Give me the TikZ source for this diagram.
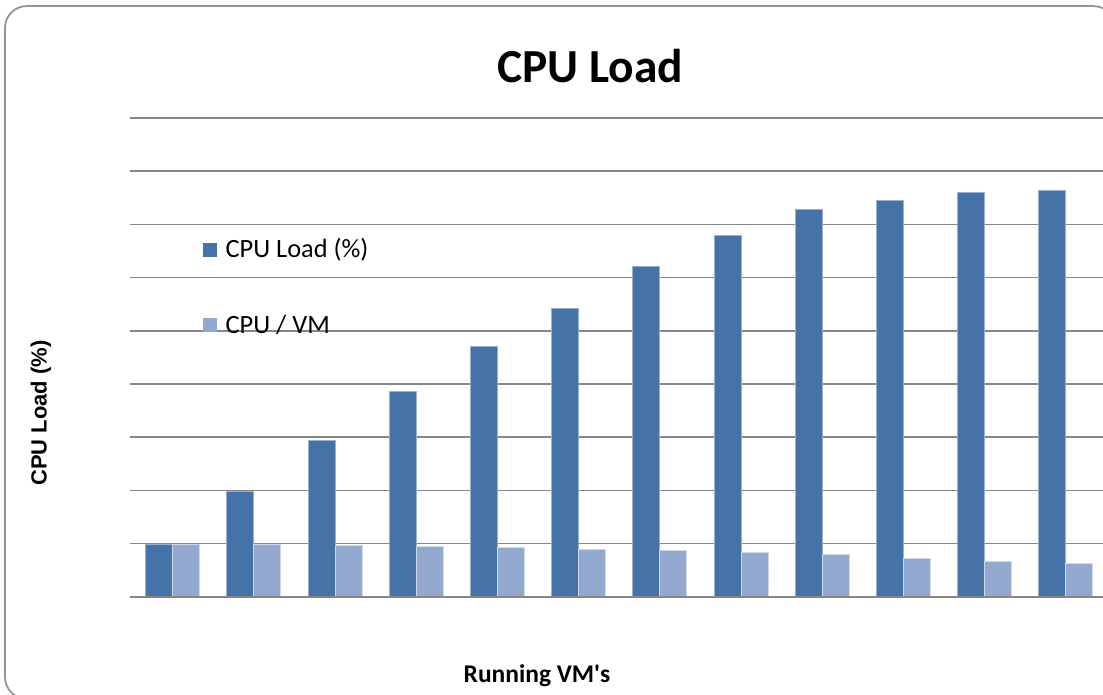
\documentclass[tikz,border=0pt]{standalone}
\usepackage{fontspec}
\setmainfont{Carlito}
\newfontfamily\arialfont{Liberation Sans}
\usetikzlibrary{positioning}
\definecolor{loadblue}{HTML}{4572A7}
\definecolor{vmblue}{HTML}{93A9CF}
\definecolor{gridgray}{HTML}{868686}
\begin{document}
\begin{tikzpicture}[x=0.02cm,y=-0.02cm,
  grid line/.style={gridgray,line width=0.9pt},
  loadbar/.style={fill=loadblue,draw=loadblue!55!white,line width=0.3pt},
  vmbar/.style={fill=vmblue,draw=vmblue!45!white,line width=0.3pt},
  keybox/.style={inner sep=0pt,minimum size=0.28cm},
  keytext/.style={font=\fontsize{15}{18}\selectfont,inner sep=0pt}]
\useasboundingbox (0,0) rectangle (1103,695);
\clip (0,0) rectangle (1103,695);
% frame
\draw[gridgray!90,line width=1pt,rounded corners=0.44cm] (5,6) rectangle (1115,699);
% grid
\foreach \k in {0,...,8}
  \draw[grid line] (130,{118+53.2*\k}) -- (1103,{118+53.2*\k});
% bars
\foreach \load/\vm [count=\i from 0] in {1/1, 1.98/1, 2.94/0.98, 3.86/0.96, 4.72/0.94,
    5.43/0.90, 6.22/0.88, 6.8/0.84, 7.29/0.81, 7.46/0.73, 7.61/0.68, 7.65/0.63}
{
  \draw[loadbar] ({145.5+81.2*\i},597) rectangle ++(27,{-53.2*\load});
  \draw[vmbar] ({172.5+81.2*\i},597) rectangle ++(27,{-53.2*\vm});
}
\draw[grid line] (130,597) -- (1103,597);
% legend
\node[keybox,fill=loadblue] (loadkey) at (210,250) {};
\node[keytext,anchor=west,right=0.16cm of loadkey] (loadtext) {CPU Load (\%)};
\node[keybox,fill=vmblue] (vmkey) at (210,325) {};
\node[keytext,anchor=west,right=0.16cm of vmkey] (vmtext) {CPU / VM};
% titles
\node[font=\fontsize{27}{32}\selectfont\bfseries] (title) at (590,66) {CPU Load};
\node[font=\fontsize{14.5}{17}\selectfont\bfseries] (xlabel) at (537,676) {Running VM\textquotesingle s};
\node[font=\arialfont\fontsize{12.5}{15}\selectfont\bfseries,rotate=90] (ylabel) at (41,413) {CPU Load (\%)};
\end{tikzpicture}
\end{document}
